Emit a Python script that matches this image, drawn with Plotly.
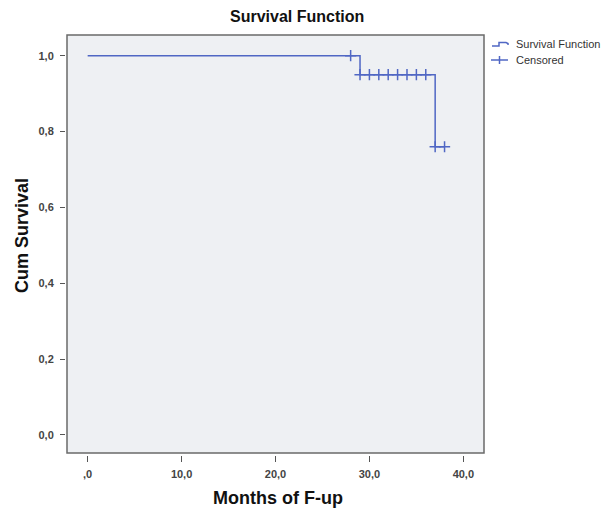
import plotly.graph_objects as go

# ---- data ----
step_time = [0, 29, 37, 38]
step_surv = [1.0, 0.95, 0.76, 0.76]
cens_time = [28, 29, 30, 31, 32, 33, 34, 35, 36, 37, 38]
cens_surv = [1.0, 0.95, 0.95, 0.95, 0.95, 0.95, 0.95, 0.95, 0.95, 0.76, 0.76]
x_ticks = [0, 10, 20, 30, 40]
x_labels = [",0", "10,0", "20,0", "30,0", "40,0"]
y_ticks = [0.0, 0.2, 0.4, 0.6, 0.8, 1.0]
y_labels = ["0,0", "0,2", "0,4", "0,6", "0,8", "1,0"]

BLUE = "#5067c4"
FONT = "Liberation Sans, Arial, sans-serif"

# the page body has an 8px margin, so the figure is drawn 8px smaller and
# every reference pixel position is shifted by that offset
OFF = 8
W, H = 610 - OFF, 511 - OFF
ML = 65 - OFF
MT = 35 - OFF
MR = W - (484 - OFF)
MB = H - (455 - OFF)
PW = W - ML - MR
PH = H - MT - MB


def px(xp):
    return (xp - OFF - ML) / PW


def py(yp):
    return (H - MB - (yp - OFF)) / PH


fig = go.Figure()
fig.add_trace(go.Scatter(
    x=step_time, y=step_surv, mode="lines", line=dict(color=BLUE, width=1.5, shape="hv"),
    name="Survival Function", showlegend=False, hoverinfo="skip"))
fig.add_trace(go.Scatter(
    x=cens_time, y=cens_surv, mode="markers", name="Censored", showlegend=False,
    marker=dict(symbol="cross-thin", size=8, line=dict(color=BLUE, width=1.5), color=BLUE)))

tickfont = dict(family=FONT, size=11, color="#444", weight="bold")

fig.update_layout(
    width=W, height=H, autosize=False,
    margin=dict(l=ML, r=MR, t=MT, b=MB),
    paper_bgcolor="white", plot_bgcolor="#eef0f3",
    font=dict(family=FONT),
    xaxis=dict(domain=[2 / PW, 1], range=[-2.2, 42.2], anchor="free", position=0,
               showline=False, showgrid=False, zeroline=False,
               ticks="outside", ticklen=6, tickwidth=1, tickcolor="#555",
               tickvals=x_ticks, ticktext=x_labels, tickfont=tickfont, ticklabelstandoff=3),
    yaxis=dict(domain=[2 / PH, 1], range=[-0.0475, 1.0546], anchor="free", position=0,
               showline=False, showgrid=False, zeroline=False,
               ticks="outside", ticklen=5, tickwidth=1, tickcolor="#555",
               tickvals=y_ticks, ticktext=y_labels, tickfont=tickfont, ticklabelstandoff=4),
)

# plot frame
fig.add_shape(type="rect", xref="x domain", yref="y domain", x0=0, x1=1, y0=0, y1=1,
              line=dict(color="#6a6a6a", width=1.5), layer="above")

# titles
fig.add_annotation(text="<b>Survival Function</b>", xref="paper", yref="paper",
                   x=px(297), y=py(17), showarrow=False, xanchor="center", yanchor="middle",
                   borderpad=0, font=dict(family=FONT, size=16, color="#111"))
fig.add_annotation(text="<b>Months of F-up</b>", xref="paper", yref="paper",
                   x=px(278), y=py(498), showarrow=False, xanchor="center", yanchor="middle",
                   font=dict(family=FONT, size=18, color="#111"))
fig.add_annotation(text="<b>Cum Survival</b>", xref="paper", yref="paper",
                   x=px(22), y=py(236), showarrow=False, textangle=-90,
                   xanchor="center", yanchor="middle",
                   font=dict(family=FONT, size=18, color="#111"))

# legend (drawn manually to match the reference's compact key)
step_path = "M {} {} L {} {} L {} {} L {} {} L {} {} L {} {}".format(
    px(492), py(46), px(499), py(46), px(499), py(42.5), px(506), py(42.5), px(508), py(43.5),
    px(508), py(45))
fig.add_shape(type="path", xref="paper", yref="paper", path=step_path,
              line=dict(color=BLUE, width=1.5))
fig.add_shape(type="line", xref="paper", yref="paper", x0=px(491), x1=px(508),
              y0=py(60), y1=py(60), line=dict(color=BLUE, width=1.5))
fig.add_shape(type="line", xref="paper", yref="paper", x0=px(499.5), x1=px(499.5),
              y0=py(56), y1=py(64), line=dict(color=BLUE, width=1.5))
fig.add_annotation(text="Survival Function", xref="paper", yref="paper",
                   x=px(515), y=py(44), xanchor="left", yanchor="middle", showarrow=False,
                   borderpad=0, font=dict(family=FONT, size=11, color="#333"))
fig.add_annotation(text="Censored", xref="paper", yref="paper",
                   x=px(515), y=py(60), xanchor="left", yanchor="middle", showarrow=False,
                   borderpad=0, font=dict(family=FONT, size=11, color="#333"))

fig.write_html("out.html")
